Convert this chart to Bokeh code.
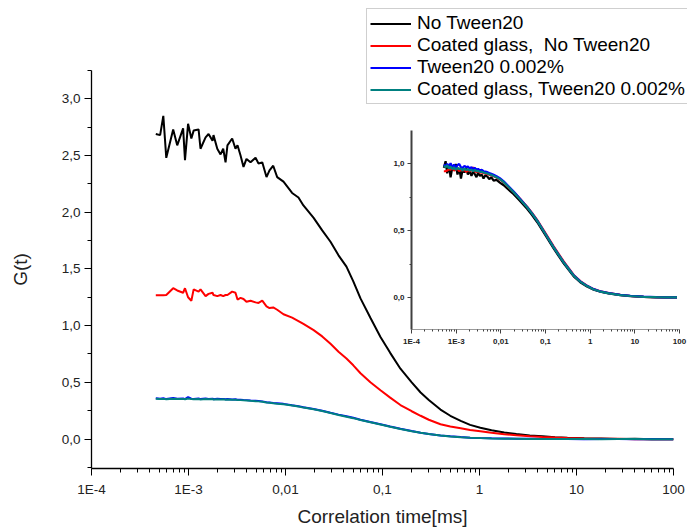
from bokeh.plotting import figure
from bokeh.models import (Range1d, FixedTicker, Legend, LegendItem, GridBox,
                          CustomJSTickFormatter)
from bokeh.embed import file_html
from bokeh.resources import INLINE

# ---------------- data ----------------
time_ms = [
    0.00046, 0.00051, 0.00055, 0.00059, 0.000695, 0.000765, 0.00088, 0.00092, 0.00099, 0.00107,
    0.00113, 0.00127, 0.00133, 0.0015, 0.00161, 0.00177, 0.00181, 0.00198, 0.00214, 0.00228,
    0.00241, 0.00252, 0.00282, 0.00305, 0.0032, 0.00344, 0.00369, 0.00396, 0.00436, 0.00491,
    0.00527, 0.00576, 0.00637, 0.00684, 0.00747, 0.00821, 0.00953, 0.0117, 0.0136, 0.0153,
    0.0195, 0.0239, 0.0291, 0.0352, 0.0425, 0.05, 0.0593, 0.075, 0.0953, 0.12,
    0.153, 0.2, 0.247, 0.3, 0.396, 0.5, 0.64, 0.8, 1.02, 1.33,
    1.8, 2.4, 3.3, 4.46, 6.0, 8.07, 12.0, 18.0, 27.0, 40.0,
    60.0, 100.0]

g_no_tween = [
    2.69, 2.68, 2.85, 2.48, 2.73, 2.59, 2.74, 2.46, 2.78, 2.65,
    2.72, 2.73, 2.56, 2.66, 2.69, 2.63, 2.68, 2.56, 2.51, 2.56,
    2.44, 2.59, 2.65, 2.56, 2.59, 2.50, 2.40, 2.47, 2.44, 2.48,
    2.43, 2.44, 2.31, 2.37, 2.41, 2.31, 2.27, 2.17, 2.13, 2.06,
    1.95, 1.84, 1.74, 1.62, 1.52, 1.39, 1.24, 1.07, 0.90, 0.76,
    0.62, 0.50, 0.41, 0.345, 0.26, 0.205, 0.16, 0.125, 0.10, 0.078,
    0.058, 0.044, 0.032, 0.024, 0.016, 0.011, 0.007, 0.004, 0.001, 0.002,
    -0.001, -0.003]

g_coated_no_tween = [
    1.267, 1.267, 1.267, 1.27, 1.33, 1.31, 1.29, 1.33, 1.25, 1.22,
    1.32, 1.30, 1.32, 1.26, 1.28, 1.29, 1.27, 1.26, 1.27, 1.26,
    1.27, 1.27, 1.30, 1.29, 1.23, 1.245, 1.235, 1.21, 1.22, 1.205,
    1.20, 1.22, 1.17, 1.155, 1.16, 1.14, 1.10, 1.07, 1.04, 1.015,
    0.96, 0.905, 0.84, 0.77, 0.71, 0.65, 0.58, 0.50, 0.43, 0.365,
    0.30, 0.245, 0.205, 0.17, 0.13, 0.11, 0.095, 0.08, 0.068, 0.055,
    0.043, 0.034, 0.025, 0.018, 0.013, 0.009, 0.005, 0.003, 0.003, -0.001,
    0.001, -0.002]

g_tween = [
    0.36, 0.355, 0.36, 0.352, 0.362, 0.355, 0.358, 0.352, 0.37, 0.356,
    0.354, 0.358, 0.352, 0.357, 0.353, 0.356, 0.351, 0.355, 0.352, 0.354,
    0.35, 0.352, 0.349, 0.35, 0.347, 0.346, 0.344, 0.343, 0.34, 0.337,
    0.335, 0.332, 0.325, 0.322, 0.318, 0.315, 0.31, 0.298, 0.29, 0.28,
    0.265, 0.25, 0.232, 0.215, 0.2, 0.187, 0.17, 0.15, 0.13, 0.11,
    0.09, 0.07, 0.056, 0.045, 0.032, 0.024, 0.017, 0.012, 0.009, 0.006,
    0.004, 0.003, 0.002, 0.001, 0.0, 0.001, -0.001, 0.0, 0.001, -0.002,
    0.0, -0.003]

g_coated_tween = [
    0.355, 0.352, 0.354, 0.35, 0.356, 0.352, 0.354, 0.35, 0.358, 0.352,
    0.351, 0.353, 0.349, 0.352, 0.35, 0.352, 0.348, 0.351, 0.349, 0.35,
    0.347, 0.348, 0.346, 0.346, 0.344, 0.343, 0.341, 0.34, 0.337, 0.334,
    0.332, 0.329, 0.323, 0.32, 0.316, 0.312, 0.307, 0.296, 0.287, 0.277,
    0.262, 0.247, 0.229, 0.212, 0.197, 0.184, 0.167, 0.148, 0.128, 0.108,
    0.088, 0.069, 0.055, 0.044, 0.031, 0.023, 0.016, 0.011, 0.008, 0.005,
    0.003, 0.002, 0.001, 0.0, 0.001, 0.0, 0.0, -0.001, 0.0, 0.001,
    -0.001, -0.002]

# inset: normalised curves
inset_time_ms = [
    0.00053, 0.00058, 0.00063, 0.00069, 0.00075, 0.00082, 0.0009, 0.00098, 0.00107, 0.00117,
    0.00128, 0.0014, 0.00153, 0.00167, 0.00183, 0.002, 0.0022, 0.0024, 0.0026, 0.00285,
    0.0031, 0.0034, 0.00375, 0.0041, 0.0045, 0.005, 0.0055, 0.0061, 0.0069, 0.008,
    0.0095, 0.0116, 0.0145, 0.0194, 0.026, 0.0387, 0.05, 0.0648, 0.0995, 0.152,
    0.2, 0.255, 0.33, 0.428, 0.6, 0.851, 1.2, 1.69, 2.6, 4.74,
    8.0, 15.7, 30.0, 50.0, 88.0]

n_no_tween = [
    0.97, 1.02, 0.93, 0.99, 0.9, 0.975, 0.95, 1.0, 0.92, 0.97,
    0.89, 0.96, 0.935, 0.97, 0.92, 0.95, 0.91, 0.94, 0.925, 0.9,
    0.935, 0.91, 0.92, 0.89, 0.915, 0.905, 0.885, 0.9, 0.875, 0.88,
    0.86, 0.84, 0.81, 0.773, 0.728, 0.664, 0.617, 0.565, 0.466, 0.367,
    0.307, 0.256, 0.207, 0.158, 0.114, 0.082, 0.058, 0.043, 0.03, 0.017,
    0.01, 0.004, 0.001, 0.0, 0.0]

n_coated_no_tween = [
    0.945, 0.945, 0.95, 0.962, 0.955, 0.97, 0.95, 0.958, 0.965, 0.945,
    0.96, 0.95, 0.955, 0.94, 0.955, 0.945, 0.95, 0.975, 0.945, 0.94,
    0.945, 0.935, 0.938, 0.93, 0.928, 0.924, 0.918, 0.915, 0.907, 0.898,
    0.884, 0.862, 0.83, 0.79, 0.744, 0.68, 0.633, 0.581, 0.482, 0.383,
    0.322, 0.27, 0.219, 0.168, 0.122, 0.088, 0.062, 0.046, 0.032, 0.019,
    0.011, 0.005, 0.002, 0.0, 0.0]

n_tween = [
    0.995, 0.985, 1.0, 0.98, 1.005, 0.975, 0.995, 0.97, 0.99, 1.0,
    0.975, 0.97, 0.985, 0.975, 0.98, 0.965, 0.975, 0.96, 0.97, 0.958,
    0.962, 0.952, 0.955, 0.945, 0.942, 0.938, 0.932, 0.926, 0.918, 0.908,
    0.893, 0.87, 0.836, 0.793, 0.744, 0.678, 0.63, 0.577, 0.477, 0.377,
    0.317, 0.265, 0.215, 0.165, 0.12, 0.087, 0.062, 0.045, 0.032, 0.019,
    0.012, 0.006, 0.002, 0.001, 0.0]

n_coated_tween = [
    0.985, 0.975, 0.99, 0.965, 0.98, 0.96, 0.975, 0.955, 0.97, 0.96,
    0.965, 0.95, 0.965, 0.955, 0.96, 0.95, 0.955, 0.945, 0.955, 0.945,
    0.948, 0.94, 0.942, 0.935, 0.932, 0.928, 0.922, 0.918, 0.91, 0.9,
    0.886, 0.863, 0.83, 0.788, 0.74, 0.675, 0.628, 0.575, 0.475, 0.375,
    0.315, 0.263, 0.213, 0.163, 0.118, 0.085, 0.06, 0.044, 0.031, 0.018,
    0.011, 0.005, 0.002, 0.0, 0.0]

series_labels = ["No Tween20", "Coated glass,  No Tween20",
                 "Tween20 0.002%", "Coated glass, Tween20 0.002%"]
series_colors = ["#000000", "#ff0000", "#0000ff", "#008080"]

x_ticks = [1e-4, 1e-3, 1e-2, 1e-1, 1, 10, 100]
x_tick_labels = ["1E-4", "1E-3", "0,01", "0,1", "1", "10", "100"]
y_ticks = [0.0, 0.5, 1.0, 1.5, 2.0, 2.5, 3.0]
y_tick_labels = ["0,0", "0,5", "1,0", "1,5", "2,0", "2,5", "3,0"]
inset_y_ticks = [0.0, 0.5, 1.0]
inset_y_tick_labels = ["0,0", "0,5", "1,0"]

FONT = "Liberation Sans"

x_minor = [m * 10.0 ** e for e in range(-4, 2) for m in range(2, 10)]

log_fmt_code = """
let best = 0, bd = Infinity;
for (let i = 0; i < tvals.length; i++) {
  const d = Math.abs(Math.log10(tick) - Math.log10(tvals[i]));
  if (d < bd) { bd = d; best = i; }
}
return tlabels[best];
"""
lin_fmt_code = """
let best = 0, bd = Infinity;
for (let i = 0; i < tvals.length; i++) {
  const d = Math.abs(tick - tvals[i]);
  if (d < bd) { bd = d; best = i; }
}
return tlabels[best];
"""

main_series = [g_no_tween, g_coated_no_tween, g_tween, g_coated_tween]
inset_series = [n_no_tween, n_coated_no_tween, n_tween, n_coated_tween]

# ---------------- main figure ----------------
p = figure(width=687, height=529, x_axis_type="log",
           x_range=Range1d(1e-4, 100), y_range=Range1d(-0.26, 3.25),
           output_backend="svg", toolbar_location=None,
           min_border_left=91, min_border_right=14,
           min_border_top=70, min_border_bottom=58)
p.frame_align = False
p.xgrid.visible = False
p.ygrid.visible = False
p.outline_line_color = None
p.background_fill_color = "white"
p.border_fill_color = "white"

for vals, col in zip(main_series, series_colors):
    p.line(time_ms, vals, line_color=col, line_width=2)

p.xaxis.ticker = FixedTicker(ticks=x_ticks, minor_ticks=x_minor)
p.xaxis.formatter = CustomJSTickFormatter(args=dict(tvals=x_ticks, tlabels=x_tick_labels),
                                          code=log_fmt_code)
p.yaxis.ticker = FixedTicker(ticks=y_ticks,
                             minor_ticks=[-0.25, 0.25, 0.75, 1.25, 1.75, 2.25, 2.75, 3.25])
p.yaxis.formatter = CustomJSTickFormatter(args=dict(tvals=y_ticks, tlabels=y_tick_labels),
                                          code=lin_fmt_code)

p.xaxis.axis_label = "Correlation time[ms]"
p.yaxis.axis_label = "G(t)"
for ax in (p.xaxis[0], p.yaxis[0]):
    ax.axis_line_color = "black"
    ax.axis_line_width = 1.3
    ax.major_tick_line_color = "black"
    ax.minor_tick_line_color = "black"
    ax.major_tick_out = 7
    ax.major_tick_in = 0
    ax.minor_tick_out = 4
    ax.minor_tick_in = 0
    ax.major_label_text_font = FONT
    ax.major_label_text_font_size = "13.5px"
    ax.major_label_text_color = "#222222"
    ax.axis_label_text_font = FONT
    ax.axis_label_text_font_size = "19px"
    ax.axis_label_text_font_style = "normal"
    ax.axis_label_text_color = "#222222"
p.xaxis.major_label_standoff = 6
p.xaxis.axis_label_standoff = 6
p.yaxis.major_label_standoff = 4
p.yaxis.axis_label_standoff = 28

# ---------------- inset figure (transparent overlay) ----------------
q = figure(width=687, height=529, x_axis_type="log",
           x_range=Range1d(1e-4, 100), y_range=Range1d(-0.24, 1.25),
           output_backend="svg", toolbar_location=None,
           min_border_left=411, min_border_right=8,
           min_border_top=130, min_border_bottom=200)
q.frame_align = False
q.xgrid.visible = False
q.ygrid.visible = False
q.outline_line_color = None
q.background_fill_color = None
q.border_fill_color = None

for vals, col in zip(inset_series, series_colors):
    q.line(inset_time_ms, vals, line_color=col, line_width=2.2)

q.xaxis.ticker = FixedTicker(ticks=x_ticks, minor_ticks=x_minor)
q.xaxis.formatter = CustomJSTickFormatter(args=dict(tvals=x_ticks, tlabels=x_tick_labels),
                                          code=log_fmt_code)
q.yaxis.ticker = FixedTicker(ticks=inset_y_ticks, minor_ticks=[0.25, 0.75])
q.yaxis.formatter = CustomJSTickFormatter(args=dict(tvals=inset_y_ticks,
                                                    tlabels=inset_y_tick_labels),
                                          code=lin_fmt_code)
for ax in (q.xaxis[0], q.yaxis[0]):
    ax.major_tick_out = 4
    ax.major_tick_in = 0
    ax.minor_tick_out = 2
    ax.minor_tick_in = 0
    ax.major_tick_line_color = "#404040"
    ax.minor_tick_line_color = "#404040"
    ax.major_label_text_font = FONT
    ax.major_label_text_font_size = "8px"
    ax.major_label_text_font_style = "bold"
    ax.major_label_text_color = "#222222"
    ax.major_label_standoff = 3
q.yaxis.axis_line_color = "#404040"
q.yaxis.axis_line_width = 2
q.xaxis.axis_line_color = "#9a9a9a"
q.xaxis.axis_line_width = 1

# ---------------- legend layer (full-canvas transparent overlay) ----------------
# the series are drawn here again, but far outside this layer's y range, so only
# their legend entries are visible
lg = figure(width=687, height=529, x_axis_type="log",
            x_range=Range1d(1e-4, 100), y_range=Range1d(10, 11),
            x_axis_location=None, y_axis_location=None,
            output_backend="svg", toolbar_location=None, min_border=0)
lg.frame_align = False
lg.xgrid.visible = False
lg.ygrid.visible = False
lg.outline_line_color = None
lg.background_fill_color = None
lg.border_fill_color = None
proxies = [lg.line(time_ms, vals, line_color=col, line_width=2)
           for vals, col in zip(main_series, series_colors)]

legend = Legend(items=[LegendItem(label=lab, renderers=[r])
                       for lab, r in zip(series_labels, proxies)],
                location=(366, 425))
legend.label_text_font = FONT
legend.label_text_font_size = "19px"
legend.label_text_color = "black"
legend.glyph_width = 41
legend.glyph_height = 21
legend.label_height = 21
legend.label_standoff = 6
legend.spacing = 0
legend.padding = 3
legend.margin = 0
legend.border_line_color = "#a0a0a0"
legend.border_line_width = 1
legend.background_fill_color = "white"
legend.background_fill_alpha = 1.0
lg.add_layout(legend)

layout = GridBox(children=[(p, 0, 0), (q, 0, 0), (lg, 0, 0)])

open("out.html", "w").write(file_html(layout, INLINE))
